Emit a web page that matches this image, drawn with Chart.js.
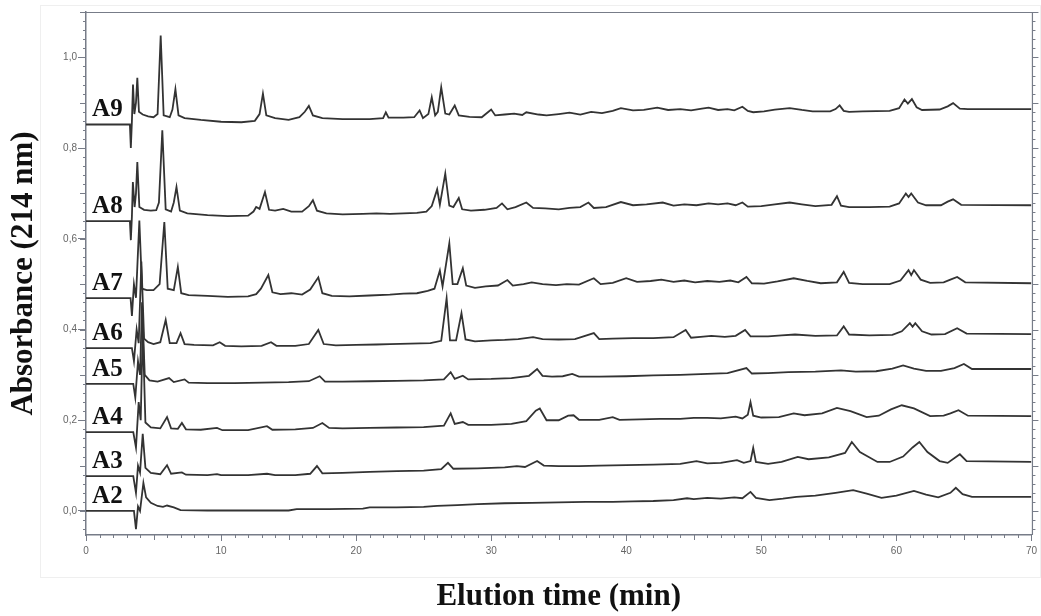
<!DOCTYPE html>
<html><head><meta charset="utf-8">
<script src="https://cdn.jsdelivr.net/npm/chart.js@4.4.1/dist/chart.umd.min.js"></script>
<style>html,body{margin:0;padding:0;background:#fff}#wrap{width:1041px;height:616px;position:relative}</style>
</head><body><div id="wrap"><canvas id="c" width="1041" height="616"></canvas></div>
<script>
// ---- data: [elution time (min), absorbance] ----
const seriesNames = ['A9','A8','A7','A6','A5','A4','A3','A2'];
const A9 = [[0,0.852],[3.25,0.852],[3.32,0.80],[3.4,0.86],[3.48,0.94],[3.58,0.875],[3.7,0.90],[3.8,0.955],[3.92,0.88],[4.2,0.874],[4.6,0.870],[5.0,0.868],[5.3,0.875],[5.53,1.048],[5.75,0.872],[6.2,0.868],[6.4,0.885],[6.62,0.93],[6.85,0.872],[7.3,0.866],[8.5,0.862],[10,0.858],[11.5,0.857],[12.5,0.860],[12.85,0.875],[13.1,0.92],[13.35,0.872],[14,0.866],[15,0.862],[15.8,0.868],[16.2,0.88],[16.5,0.893],[16.8,0.872],[17.5,0.866],[19,0.864],[21,0.864],[22,0.866],[22.2,0.879],[22.4,0.867],[23.5,0.867],[24.3,0.868],[24.7,0.883],[24.95,0.866],[25.35,0.875],[25.6,0.912],[25.85,0.872],[26.05,0.88],[26.3,0.934],[26.6,0.876],[26.9,0.874],[27.3,0.894],[27.6,0.872],[28.4,0.869],[29.3,0.868],[29.8,0.880],[30.0,0.885],[30.3,0.872],[31,0.874],[31.7,0.876],[32.3,0.873],[32.6,0.879],[33.5,0.874],[34.1,0.872],[35,0.875],[35.8,0.878],[36.6,0.874],[37.4,0.880],[38.2,0.877],[39.0,0.882],[39.6,0.888],[40.5,0.883],[41.3,0.884],[42.3,0.889],[43.1,0.884],[44.0,0.886],[44.8,0.883],[45.6,0.887],[46.1,0.889],[46.8,0.884],[47.5,0.886],[48.0,0.883],[48.6,0.891],[49.0,0.882],[49.4,0.879],[50.2,0.881],[51.0,0.885],[52.1,0.888],[53.0,0.884],[53.8,0.881],[55.1,0.881],[55.5,0.886],[55.8,0.894],[56.1,0.882],[56.5,0.880],[57.5,0.881],[59.5,0.882],[60.2,0.888],[60.6,0.907],[60.85,0.898],[61.15,0.908],[61.5,0.890],[61.9,0.884],[63.2,0.885],[63.8,0.892],[64.2,0.899],[64.7,0.887],[65.3,0.886],[70,0.886]];
const A8 = [[0,0.639],[3.25,0.639],[3.32,0.597],[3.4,0.65],[3.47,0.725],[3.6,0.67],[3.7,0.70],[3.8,0.769],[3.95,0.67],[4.3,0.664],[4.8,0.662],[5.2,0.663],[5.4,0.68],[5.65,0.839],[5.9,0.665],[6.3,0.660],[6.5,0.68],[6.7,0.714],[6.95,0.662],[7.5,0.656],[9,0.652],[10.5,0.650],[12,0.651],[12.4,0.660],[12.6,0.670],[12.85,0.666],[13.25,0.703],[13.55,0.664],[14,0.662],[14.6,0.666],[15.2,0.66],[16,0.66],[16.5,0.672],[16.8,0.685],[17.1,0.662],[17.8,0.656],[19,0.654],[20.5,0.655],[21.5,0.656],[22.5,0.655],[23.5,0.656],[24.5,0.657],[25.2,0.660],[25.6,0.672],[26.0,0.709],[26.2,0.675],[26.6,0.744],[26.9,0.673],[27.2,0.670],[27.6,0.69],[27.85,0.665],[28.5,0.662],[29.5,0.664],[30.4,0.668],[30.8,0.678],[31.2,0.665],[31.8,0.670],[32.6,0.680],[33.1,0.668],[34,0.667],[35,0.665],[35.8,0.668],[36.6,0.670],[37.2,0.680],[37.6,0.668],[38.5,0.670],[39.6,0.681],[40.5,0.674],[41.5,0.676],[42.7,0.68],[43.5,0.673],[44.3,0.676],[45.2,0.674],[46.1,0.678],[46.8,0.676],[47.5,0.678],[48.1,0.674],[48.6,0.680],[49.0,0.671],[50.0,0.672],[51.0,0.676],[52.1,0.680],[53.0,0.676],[54.0,0.672],[55.2,0.675],[55.6,0.694],[55.9,0.673],[56.5,0.670],[58,0.670],[59.5,0.671],[60.2,0.678],[60.7,0.70],[60.9,0.692],[61.1,0.70],[61.6,0.68],[62.2,0.674],[63.3,0.674],[63.8,0.682],[64.2,0.687],[64.8,0.675],[70,0.674]];
const A7 = [[0,0.469],[3.3,0.469],[3.4,0.43],[3.55,0.50],[3.7,0.47],[3.95,0.64],[4.15,0.49],[4.5,0.487],[5.0,0.487],[5.45,0.50],[5.8,0.637],[6.05,0.49],[6.5,0.487],[6.8,0.538],[7.05,0.480],[7.6,0.476],[9,0.474],[10.5,0.472],[12,0.473],[12.6,0.478],[12.95,0.49],[13.5,0.52],[13.8,0.482],[14.4,0.478],[15.2,0.480],[16,0.477],[16.6,0.488],[17.2,0.515],[17.5,0.48],[18.2,0.474],[19.5,0.473],[21,0.475],[22.5,0.477],[23.5,0.479],[24.5,0.480],[25.3,0.485],[25.8,0.49],[26.2,0.53],[26.4,0.495],[26.9,0.59],[27.15,0.50],[27.5,0.50],[27.9,0.535],[28.15,0.497],[28.8,0.492],[29.6,0.495],[30.5,0.497],[31.2,0.509],[31.6,0.497],[32.4,0.500],[33.0,0.504],[33.8,0.500],[34.8,0.498],[35.6,0.500],[36.5,0.499],[37.6,0.513],[38.1,0.500],[39.0,0.503],[40.0,0.513],[40.8,0.505],[41.8,0.507],[42.6,0.510],[43.5,0.505],[44.3,0.508],[45.1,0.504],[46,0.507],[46.9,0.505],[47.7,0.508],[48.3,0.504],[48.9,0.516],[49.3,0.502],[50.2,0.501],[51.2,0.506],[52.4,0.513],[53.4,0.507],[54.4,0.502],[55.6,0.504],[56.1,0.527],[56.5,0.503],[57.5,0.500],[59.5,0.500],[60.3,0.508],[60.9,0.531],[61.1,0.520],[61.3,0.531],[61.8,0.510],[62.5,0.503],[63.5,0.504],[64.0,0.510],[64.5,0.516],[65.1,0.504],[70,0.502]];
const A6 = [[0,0.359],[3.4,0.359],[3.55,0.33],[3.75,0.40],[3.9,0.37],[4.1,0.55],[4.3,0.38],[4.6,0.372],[5.0,0.368],[5.5,0.372],[5.9,0.421],[6.2,0.370],[6.7,0.370],[7.0,0.392],[7.3,0.368],[8,0.366],[9.4,0.365],[9.9,0.372],[10.3,0.364],[11.5,0.363],[13,0.364],[13.7,0.372],[14.1,0.364],[15.5,0.364],[16.5,0.368],[17.2,0.399],[17.6,0.368],[18.5,0.365],[20,0.366],[21.5,0.367],[22.5,0.368],[24,0.369],[25.5,0.370],[26.3,0.375],[26.7,0.469],[26.95,0.376],[27.4,0.376],[27.8,0.436],[28.1,0.378],[28.8,0.374],[30,0.376],[31,0.377],[32,0.379],[33.1,0.383],[33.8,0.379],[35,0.378],[36.2,0.379],[37.6,0.392],[38,0.379],[39,0.380],[40.5,0.381],[42,0.381],[43.5,0.383],[44.4,0.399],[44.8,0.382],[45.5,0.384],[46.3,0.386],[47.3,0.384],[48.1,0.386],[48.8,0.399],[49.2,0.385],[50.5,0.385],[51.5,0.387],[52.5,0.389],[54,0.386],[55.6,0.387],[56.1,0.407],[56.5,0.389],[58,0.387],[59.7,0.388],[60.4,0.396],[61.0,0.414],[61.2,0.406],[61.4,0.414],[61.9,0.396],[62.6,0.389],[63.6,0.390],[64.5,0.403],[65.2,0.391],[70,0.390]];
const A5 = [[0,0.280],[3.5,0.280],[3.65,0.25],[3.85,0.33],[4.0,0.30],[4.15,0.46],[4.35,0.30],[4.7,0.288],[5.3,0.285],[6.15,0.293],[6.5,0.284],[7.3,0.29],[7.6,0.283],[9,0.282],[11,0.282],[13,0.283],[15,0.284],[16.5,0.286],[17.3,0.297],[17.7,0.285],[19,0.285],[21,0.286],[23,0.287],[25,0.288],[26.5,0.290],[27.0,0.306],[27.3,0.291],[27.9,0.298],[28.3,0.290],[30,0.291],[31.5,0.293],[32.8,0.298],[33.4,0.313],[33.8,0.298],[34.5,0.296],[35.3,0.297],[36.0,0.302],[36.5,0.296],[38,0.296],[40,0.297],[42,0.299],[44,0.300],[46,0.302],[47.5,0.304],[48.9,0.315],[49.3,0.303],[50.5,0.304],[52,0.306],[54,0.307],[55.9,0.310],[57,0.307],[58.5,0.308],[59.7,0.314],[60.5,0.321],[61.3,0.314],[62.2,0.309],[63.3,0.309],[64.3,0.315],[65.0,0.324],[65.6,0.313],[70,0.313]];
const A4 = [[0,0.174],[3.5,0.174],[3.7,0.14],[3.9,0.24],[4.05,0.20],[4.2,0.40],[4.4,0.195],[4.8,0.184],[5.5,0.182],[6.0,0.207],[6.3,0.182],[6.8,0.181],[7.1,0.194],[7.4,0.180],[8.5,0.179],[9.7,0.183],[10.1,0.178],[12,0.178],[13.4,0.187],[13.8,0.179],[15.5,0.180],[16.8,0.183],[17.5,0.194],[18,0.183],[19,0.182],[21,0.183],[23,0.184],[25,0.185],[26.5,0.188],[27.0,0.215],[27.3,0.192],[27.9,0.196],[28.3,0.190],[30,0.190],[31.5,0.192],[32.6,0.198],[33.3,0.221],[33.6,0.226],[34.1,0.200],[35,0.200],[35.7,0.210],[36.1,0.211],[36.5,0.201],[38,0.201],[39,0.207],[39.5,0.201],[41,0.202],[42.5,0.203],[44,0.203],[45,0.205],[46,0.205],[47,0.204],[48.1,0.208],[48.6,0.204],[49.0,0.212],[49.2,0.240],[49.4,0.210],[50,0.206],[51.3,0.207],[52.4,0.215],[53.2,0.211],[54.5,0.215],[55.6,0.227],[56.6,0.220],[57.8,0.207],[58.7,0.210],[59.6,0.224],[60.4,0.233],[61.3,0.226],[62.5,0.209],[63.5,0.210],[64.0,0.215],[64.6,0.222],[65.3,0.210],[70,0.209]];
const A3 = [[0,0.077],[3.5,0.077],[3.7,0.04],[3.85,0.10],[4.0,0.085],[4.2,0.17],[4.4,0.095],[4.8,0.084],[5.5,0.081],[6.0,0.101],[6.3,0.082],[7.1,0.085],[7.4,0.080],[9,0.079],[9.7,0.081],[10,0.079],[12,0.079],[13.4,0.082],[14,0.079],[15.5,0.079],[16.6,0.082],[17.1,0.099],[17.5,0.083],[19,0.084],[21,0.086],[23,0.088],[25,0.089],[26.3,0.092],[26.8,0.106],[27.2,0.093],[29,0.094],[31,0.096],[31.9,0.099],[32.5,0.097],[33.4,0.110],[33.9,0.100],[35,0.099],[36.5,0.099],[38,0.100],[40,0.101],[42,0.102],[44,0.104],[45.2,0.110],[46,0.105],[47,0.106],[48.2,0.112],[48.7,0.106],[49.2,0.110],[49.4,0.139],[49.6,0.108],[50.5,0.104],[51.5,0.108],[52.7,0.119],[53.5,0.114],[55,0.118],[56.2,0.128],[56.7,0.152],[57.3,0.130],[58.6,0.108],[59.5,0.108],[60.5,0.120],[61.2,0.140],[61.7,0.152],[62.3,0.130],[63.2,0.110],[63.8,0.106],[64.7,0.125],[65.2,0.110],[70,0.108]];
const A2 = [[0,0.0],[3.55,0.0],[3.7,-0.04],[3.85,0.01],[4.0,0.0],[4.25,0.062],[4.45,0.030],[4.8,0.018],[5.3,0.011],[5.7,0.009],[6.0,0.012],[6.5,0.008],[7,0.002],[9,0.001],[12,0.001],[15,0.001],[15.6,0.004],[18,0.004],[20.5,0.005],[21,0.008],[23,0.008],[25,0.009],[26,0.011],[27.5,0.013],[29,0.015],[31,0.017],[33,0.018],[35,0.019],[37,0.020],[39,0.020],[40.5,0.021],[42,0.022],[43.5,0.024],[44.5,0.028],[45,0.026],[46,0.029],[47,0.027],[48,0.030],[48.6,0.028],[49.2,0.042],[49.6,0.029],[50.6,0.024],[51.6,0.027],[52.6,0.031],[54,0.034],[55.5,0.040],[56.8,0.046],[57.8,0.038],[58.9,0.029],[60,0.034],[61.3,0.044],[62.2,0.036],[63.1,0.030],[64.0,0.040],[64.4,0.051],[64.9,0.037],[65.6,0.031],[70,0.031]];
const seriesData = [A9, A8, A7, A6, A5, A4, A3, A2];
const xTicks = [0, 10, 20, 30, 40, 50, 60, 70];
const yTicks = [0, 0.2, 0.4, 0.6, 0.8, 1.0];
const yTickLabels = ['0,0', '0,2', '0,4', '0,6', '0,8', '1,0'];

const AXIS = '#777c88';
const LINE = '#333333';

const decor = {
  id: 'decor',
  beforeDraw(chart) {
    const ctx = chart.ctx;
    ctx.save();
    ctx.strokeStyle = '#efefef';
    ctx.lineWidth = 1;
    ctx.strokeRect(40.5, 5.5, 1000, 572);
    ctx.restore();
  },
  afterDraw(chart) {
    const ctx = chart.ctx, a = chart.chartArea;
    const xs = chart.scales.x, ys = chart.scales.y;
    ctx.save();
    ctx.strokeStyle = AXIS;
    ctx.lineWidth = 1.2;
    ctx.beginPath();
    ctx.moveTo(a.left, a.top + 0.5); ctx.lineTo(a.right + 1, a.top + 0.5);
    ctx.moveTo(a.right + 1, a.top); ctx.lineTo(a.right + 1, a.bottom);
    ctx.stroke();
    ctx.lineWidth = 1;
    ctx.beginPath();
    for (let i = -2; i <= 55; i++) {
      const v = i * 0.02;
      if (v < ys.min || v > ys.max) continue;
      const p = Math.round(ys.getPixelForValue(v)) + 0.5;
      const len = (i % 5 === 0) ? 6 : 3;
      ctx.moveTo(a.left - len, p); ctx.lineTo(a.left, p);
      ctx.moveTo(a.right + 1, p); ctx.lineTo(a.right + 1 + len, p);
    }
    for (let t = 0; t <= 70; t++) {
      const p = Math.round(xs.getPixelForValue(t)) + 0.5;
      const len = (t % 5 === 0) ? 5 : 3;
      ctx.moveTo(p, a.bottom - 1); ctx.lineTo(p, a.bottom + len);
    }
    ctx.stroke();
    ctx.restore();
  },
  afterDatasetsDraw(chart) {
    const ctx = chart.ctx;
    const xs = chart.scales.x, ys = chart.scales.y;
    ctx.save();
    ctx.font = 'bold 25px "Liberation Serif", "Times New Roman", serif';
    ctx.fillStyle = '#111';
    ctx.textAlign = 'left';
    ctx.textBaseline = 'alphabetic';
    seriesNames.forEach((n, i) => {
      const base = seriesData[i][0][1];
      ctx.fillText(n, xs.getPixelForValue(0.45), ys.getPixelForValue(base) - 8);
    });
    ctx.restore();
  }
};

new Chart(document.getElementById('c'), {
  type: 'line',
  data: {
    datasets: seriesNames.map((n, i) => ({
      label: n,
      data: seriesData[i].map(p => ({ x: p[0], y: p[1] })),
      borderColor: LINE,
      borderWidth: 1.8,
      pointRadius: 0,
      tension: 0,
      fill: false
    }))
  },
  options: {
    responsive: false,
    animation: false,
    layout: { padding: { top: 12, right: 9, left: 0, bottom: 0 } },
    plugins: { legend: { display: false }, tooltip: { enabled: false } },
    scales: {
      x: {
        type: 'linear', min: 0, max: 70,
        afterBuildTicks: s => { s.ticks = xTicks.map(v => ({ value: v })); },
        afterFit: s => { s.height = 81; },
        ticks: { color: '#666', font: { family: 'Liberation Sans', size: 10 }, padding: 4, maxRotation: 0, autoSkip: false },
        grid: { display: true, drawOnChartArea: false, drawTicks: true, tickLength: 6, color: AXIS },
        border: { display: true, color: AXIS, width: 1.5 },
        title: { display: true, text: 'Elution time (min)', color: '#111', padding: { top: 0, bottom: 0 },
                 font: { family: 'Liberation Serif', size: 31, weight: 'bold' } }
      },
      y: {
        type: 'linear', min: -0.053, max: 1.1,
        afterBuildTicks: s => { s.ticks = yTicks.map(v => ({ value: v })); },
        afterFit: s => { s.width = 86; },
        ticks: { color: '#666', font: { family: 'Liberation Sans', size: 10 }, padding: 1,
                 callback: (v, i) => yTickLabels[i] },
        grid: { display: true, drawOnChartArea: false, drawTicks: true, tickLength: 8, color: AXIS },
        border: { display: true, color: AXIS, width: 1.5 },
        title: { display: true, text: 'Absorbance (214 nm)', color: '#111', padding: { top: 5, bottom: 0 },
                 font: { family: 'Liberation Serif', size: 31, weight: 'bold' } }
      }
    }
  },
  plugins: [decor]
});
</script>
</body></html>
